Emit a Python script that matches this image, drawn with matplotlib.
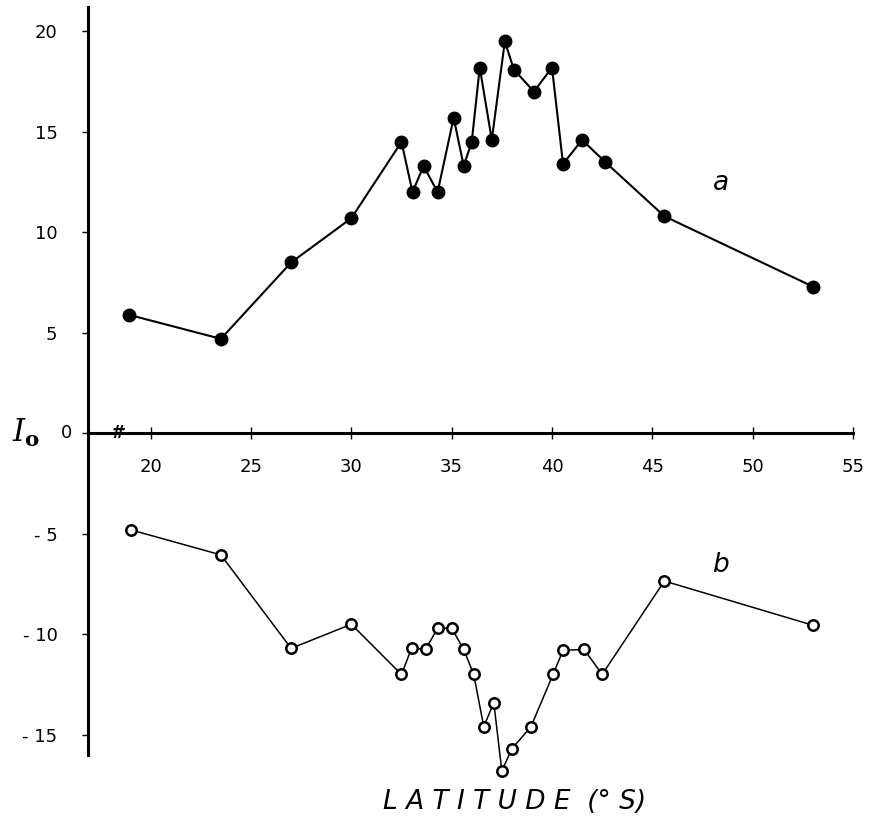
import matplotlib
matplotlib.use("Agg")
import matplotlib.pyplot as plt

# latitude (deg S) and I0 values
lat_a = [18.9, 23.5, 27.0, 30.0, 32.5, 33.05, 33.6, 34.3, 35.1, 35.6, 36.0,
         36.4, 37.0, 37.65, 38.1, 39.1, 40.0, 40.55, 41.5, 42.65, 45.6, 53.0]
io_a = [5.9, 4.7, 8.5, 10.7, 14.5, 12.0, 13.3, 12.0, 15.7, 13.3, 14.5,
        18.2, 14.6, 19.5, 18.1, 17.0, 18.2, 13.4, 14.6, 13.5, 10.8, 7.3]

lat_b = [19.0, 23.5, 27.0, 30.0, 32.5, 33.0, 33.7, 34.3, 35.0, 35.6, 36.1,
         36.6, 37.1, 37.5, 38.0, 38.95, 40.05, 40.55, 41.6, 42.5, 45.6, 53.0]
io_b = [-4.8, -6.05, -10.7, -9.5, -12.0, -10.7, -10.75, -9.7, -9.7, -10.75, -12.0,
        -14.6, -13.4, -16.8, -15.7, -14.6, -12.0, -10.8, -10.75, -12.0, -7.35, -9.55]

xticks = [20, 25, 30, 35, 40, 45, 50, 55]
yticks = [-15, -10, -5, 0, 5, 10, 15, 20]

plt.rcParams['mathtext.fontset'] = 'dejavuserif'

fig = plt.figure(figsize=(8.76, 8.26), dpi=100)
ax = fig.add_axes([0.1005, 0.0496, 0.8847, 0.9441])

ax.plot(lat_a, io_a, color='black', lw=1.5, marker='o', ms=9, mfc='black', mec='black')
ax.plot(lat_b, io_b, color='black', lw=1.1, marker='o', ms=7.5, mfc='white', mec='black', mew=1.8)

ax.set_xlim(16.88, 55.5)
ax.set_ylim(-17.5, 21.3)

for s in ['top', 'right']:
    ax.spines[s].set_visible(False)
ax.spines['left'].set_linewidth(2.2)
ax.spines['left'].set_bounds(-16.0, 21.2)
ax.spines['bottom'].set_position(('data', 0))
ax.spines['bottom'].set_linewidth(2.2)
ax.spines['bottom'].set_bounds(16.88, 55)

ax.set_xticks(xticks)
ax.set_xticklabels([str(t) for t in xticks])
ax.set_yticks(yticks)
ax.set_yticklabels(['' if t == 0 else ('- %d' % -t if t < 0 else str(t)) for t in yticks])
ax.tick_params(axis='x', direction='inout', length=9, width=1, pad=13, labelsize=13)
ax.tick_params(axis='y', direction='out', length=4, width=1, pad=18, labelsize=13)

# zero label and axis symbol
ax.text(-0.02, 0, '0', transform=ax.get_yaxis_transform(), ha='right', va='center', fontsize=13)
ax.text(-0.08, 0, r'$I_\mathbf{o}$', transform=ax.get_yaxis_transform(),
        ha='center', va='center', fontsize=22, fontweight='bold')

# axis break mark
ax.text(18.32, 0, '#', ha='center', va='center', fontsize=13, style='italic', fontweight='bold')

ax.text(48.4, 12.45, 'a', ha='center', va='center', fontsize=19, style='italic')
ax.text(48.4, -6.55, 'b', ha='center', va='center', fontsize=19, style='italic')

fig.text(515 / 876, 1 - 802 / 826, 'L A T I T U D E  (° S)', ha='center', va='center',
         fontsize=19, style='italic')

fig.savefig('out.png', dpi=100)
